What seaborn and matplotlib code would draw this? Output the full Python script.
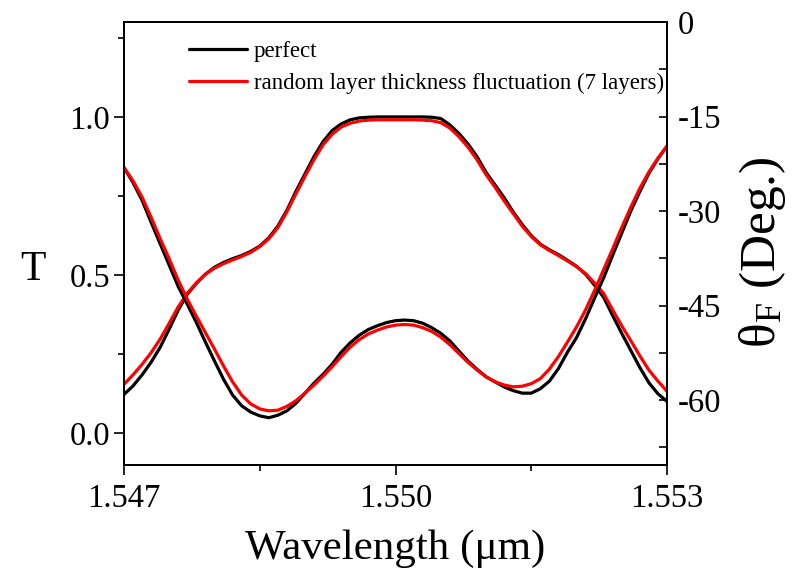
import numpy as np
import pandas as pd
import matplotlib
matplotlib.use("Agg")
import matplotlib.pyplot as plt
import seaborn as sns
from matplotlib.ticker import MultipleLocator, FixedLocator
from matplotlib.lines import Line2D

# ---------------- data ----------------
wavelength = np.linspace(1.547, 1.553, 61)  # micrometres

T_perfect = [0.123, 0.150, 0.185, 0.225, 0.272, 0.330, 0.390, 0.440, 0.474, 0.503,
             0.525, 0.540, 0.552, 0.562, 0.575, 0.592, 0.618, 0.655, 0.705, 0.765,
             0.820, 0.875, 0.922, 0.957, 0.978, 0.991, 0.997, 0.999, 1.000, 1.000,
             1.000, 1.000, 1.000, 1.000, 0.999, 0.995, 0.975, 0.948, 0.915, 0.875,
             0.825, 0.785, 0.745, 0.700, 0.660, 0.625, 0.598, 0.580, 0.565, 0.547,
             0.528, 0.503, 0.468, 0.430, 0.372, 0.316, 0.262, 0.208, 0.160, 0.125,
             0.101]

T_random = [0.155, 0.185, 0.218, 0.255, 0.298, 0.348, 0.400, 0.443, 0.476, 0.503,
            0.522, 0.536, 0.548, 0.559, 0.572, 0.590, 0.615, 0.650, 0.700, 0.757,
            0.812, 0.865, 0.912, 0.945, 0.968, 0.980, 0.987, 0.990, 0.991, 0.991,
            0.991, 0.991, 0.991, 0.990, 0.988, 0.982, 0.965, 0.938, 0.905, 0.865,
            0.818, 0.778, 0.735, 0.695, 0.655, 0.622, 0.596, 0.578, 0.562, 0.545,
            0.527, 0.505, 0.475, 0.442, 0.390, 0.340, 0.293, 0.245, 0.200, 0.165,
            0.133]

theta_perfect = [-23.1, -25.5, -28.3, -31.8, -35.2, -38.6, -42.0, -44.8, -47.7, -50.8,
                 -53.8, -56.7, -59.2, -60.9, -61.9, -62.5, -62.8, -62.4, -61.7, -60.5,
                 -58.9, -57.3, -55.9, -54.3, -52.4, -50.9, -49.7, -48.8, -48.2, -47.7,
                 -47.4, -47.3, -47.4, -47.8, -48.5, -49.4, -50.6, -52.2, -53.8, -55.1,
                 -56.3, -57.1, -57.9, -58.5, -58.9, -58.9, -58.2, -57.0, -55.0, -52.4,
                 -50.1, -47.1, -43.8, -40.6, -37.0, -33.5, -30.0, -26.9, -24.0, -21.7,
                 -19.7]

theta_random = [-23.1, -25.2, -27.8, -31.0, -34.4, -37.6, -41.0, -44.0, -46.7, -49.3,
                -51.9, -54.6, -57.1, -59.2, -60.6, -61.4, -61.7, -61.6, -61.0, -60.1,
                -58.9, -57.6, -56.2, -54.7, -53.1, -51.6, -50.4, -49.5, -48.9, -48.4,
                -48.1, -48.0, -48.1, -48.5, -49.1, -50.0, -51.2, -52.6, -54.0, -55.2,
                -56.3, -57.1, -57.6, -57.9, -57.8, -57.4, -56.6, -55.1, -53.1, -50.8,
                -48.4, -45.7, -42.6, -39.3, -36.0, -32.6, -29.4, -26.4, -23.8, -21.6,
                -19.7]

series_labels = ["perfect", "random layer thickness fluctuation (7 layers)"]
series_colors = ["black", "red"]

x_ticks = [1.547, 1.550, 1.553]
x_minor_ticks = [1.5485, 1.5515]
x_tick_labels = ["1.547", "1.550", "1.553"]
left_ticks = [0.0, 0.5, 1.0]
right_ticks = [0, -15, -30, -45, -60]

# ---------------- style ----------------
sns.set_style("ticks")
plt.rcParams["font.family"] = ["Liberation Serif", "DejaVu Serif"]
plt.rcParams["mathtext.fontset"] = "custom"
plt.rcParams["mathtext.rm"] = "Liberation Serif"
plt.rcParams["mathtext.it"] = "Liberation Serif:italic"
plt.rcParams["axes.linewidth"] = 1.3
plt.rcParams["text.color"] = "black"
plt.rcParams["axes.labelcolor"] = "black"
plt.rcParams["xtick.color"] = "black"
plt.rcParams["ytick.color"] = "black"
plt.rcParams["axes.edgecolor"] = "black"

fig = plt.figure(figsize=(7.92, 5.74), dpi=100)
ax = fig.add_axes([124 / 792, 1 - 465 / 574, 543 / 792, 443 / 574])
ax2 = ax.twinx()

df = pd.DataFrame({
    "wavelength": wavelength,
    "T_perfect": T_perfect,
    "T_random": T_random,
    "theta_perfect": theta_perfect,
    "theta_random": theta_random,
})

lw = 2.3
sns.lineplot(data=df, x="wavelength", y="T_perfect", ax=ax, color=series_colors[0], lw=lw)
sns.lineplot(data=df, x="wavelength", y="T_random", ax=ax, color=series_colors[1], lw=lw)
sns.lineplot(data=df, x="wavelength", y="theta_perfect", ax=ax2, color=series_colors[0], lw=lw)
sns.lineplot(data=df, x="wavelength", y="theta_random", ax=ax2, color=series_colors[1], lw=lw)

# axes limits and ticks
ax.set_xlim(1.547, 1.553)
ax.set_ylim(-0.1, 1.3)
ax2.set_ylim(-70.3, 0)

ax.set_xticks(x_ticks)
ax.set_xticklabels(x_tick_labels)
ax.xaxis.set_minor_locator(FixedLocator(x_minor_ticks))
ax.set_yticks(left_ticks)
ax.set_yticklabels([f"{v:.1f}" for v in left_ticks])
ax.yaxis.set_minor_locator(MultipleLocator(0.25))
ax2.set_yticks(right_ticks)
ax2.set_yticklabels([str(v) for v in right_ticks])
ax2.yaxis.set_minor_locator(MultipleLocator(7.5))

for a in (ax, ax2):
    for s in a.spines.values():
        s.set_visible(True)
        s.set_linewidth(1.3)
        s.set_color("black")

ax.tick_params(axis="both", which="major", direction="out", length=7, width=1.2,
               labelsize=23.5, colors="black", pad=3)
ax.tick_params(axis="both", which="minor", direction="out", length=4, width=1.2, colors="black")
ax.tick_params(axis="x", which="major", pad=6)
ax.tick_params(top=False, right=False, which="both")
ax2.tick_params(axis="y", which="both", direction="in", length=5.5, width=1.2,
                labelsize=23.5, pad=8, colors="black")

# labels
ax.set_xlabel("Wavelength (μm)", fontsize=31, color="black")
ax.xaxis.set_label_coords(0.5, -0.145, transform=ax.transAxes)
ax.set_ylabel("T", fontsize=30, rotation=0, va="center", ha="center", color="black")
ax.yaxis.set_label_coords((33 - 124) / 543, (465 - 270) / 443)
ax2.set_ylabel("θ$_{\\mathrm{F}}$ (Deg.)", fontsize=37, rotation=90, va="center",
               ha="center", color="black")
ax2.yaxis.set_label_coords((763 - 124) / 543, (465 - 252) / 443)

# legend
handles = [Line2D([0], [0], color=c, lw=lw) for c in series_colors]
leg = ax2.legend(handles, series_labels, loc="upper left",
                 bbox_to_anchor=(189 / 792, 1 - 41 / 574), bbox_transform=fig.transFigure,
                 frameon=False, fontsize=16.5, handlelength=2.55, handletextpad=0.28,
                 labelspacing=0.45, borderpad=0, borderaxespad=0)
for t in leg.get_texts():
    t.set_color("black")

fig.savefig("out.png", dpi=100)
